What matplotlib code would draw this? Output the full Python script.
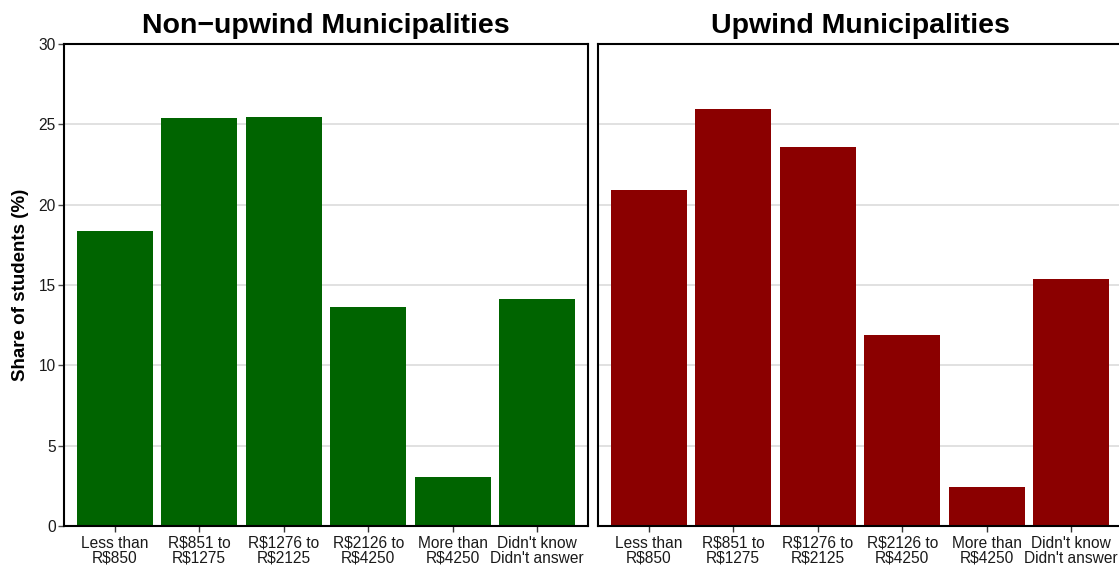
import numpy as np
import matplotlib
matplotlib.use("Agg")
import matplotlib.pyplot as plt

plt.rcParams['font.family'] = ['Liberation Sans', 'DejaVu Sans']

income_labels = ["Less than\nR$850", "R$851 to\nR$1275", "R$1276 to\nR$2125",
                 "R$2126 to\nR$4250", "More than\nR$4250", "Didn't know\nDidn't answer"]
non_upwind_share = [18.35, 25.40, 25.45, 13.65, 3.05, 14.15]
upwind_share = [20.90, 25.95, 23.60, 11.90, 2.45, 15.40]

panel_titles = ["Non\u2212upwind Municipalities", "Upwind Municipalities"]
panel_colors = ["#006400", "#8B0000"]

fig = plt.figure(figsize=(11.19, 5.66), dpi=100)
ax_left = fig.add_axes([64 / 1119, 40 / 566, 524 / 1119, 482 / 566])
ax_right = fig.add_axes([598 / 1119, 40 / 566, 524 / 1119, 482 / 566])

x = np.arange(1, len(income_labels) + 1)

for ax, vals, title, color in zip([ax_left, ax_right],
                                  [non_upwind_share, upwind_share],
                                  panel_titles, panel_colors):
    ax.set_axisbelow(True)
    ax.yaxis.grid(True, color="#d9d9d9", linewidth=1.1)
    ax.bar(x, vals, width=0.9, color=color)
    ax.set_xlim(0.4, 6.6)
    ax.set_ylim(0, 30)
    ax.set_yticks([0, 5, 10, 15, 20, 25, 30])
    ax.set_xticks(x)
    ax.set_xticklabels(income_labels, fontsize=11.2, color="#1a1a1a", linespacing=1.0)
    ax.tick_params(axis="x", length=4, width=1, color="#333333", pad=3)
    ax.tick_params(axis="y", length=4, width=1, color="#4d4d4d", labelsize=11.2,
                   labelcolor="#1a1a1a", pad=2)
    for sp in ax.spines.values():
        sp.set_linewidth(1.5)
        sp.set_color("black")
    ax.set_title(title, fontsize=20.5, fontweight="bold", pad=8)

ax_left.set_ylabel("Share of students (%)", fontsize=13.5, fontweight="bold", labelpad=7)
ax_right.tick_params(axis="y", length=0, labelleft=False)

fig.savefig("out.png", dpi=100)
